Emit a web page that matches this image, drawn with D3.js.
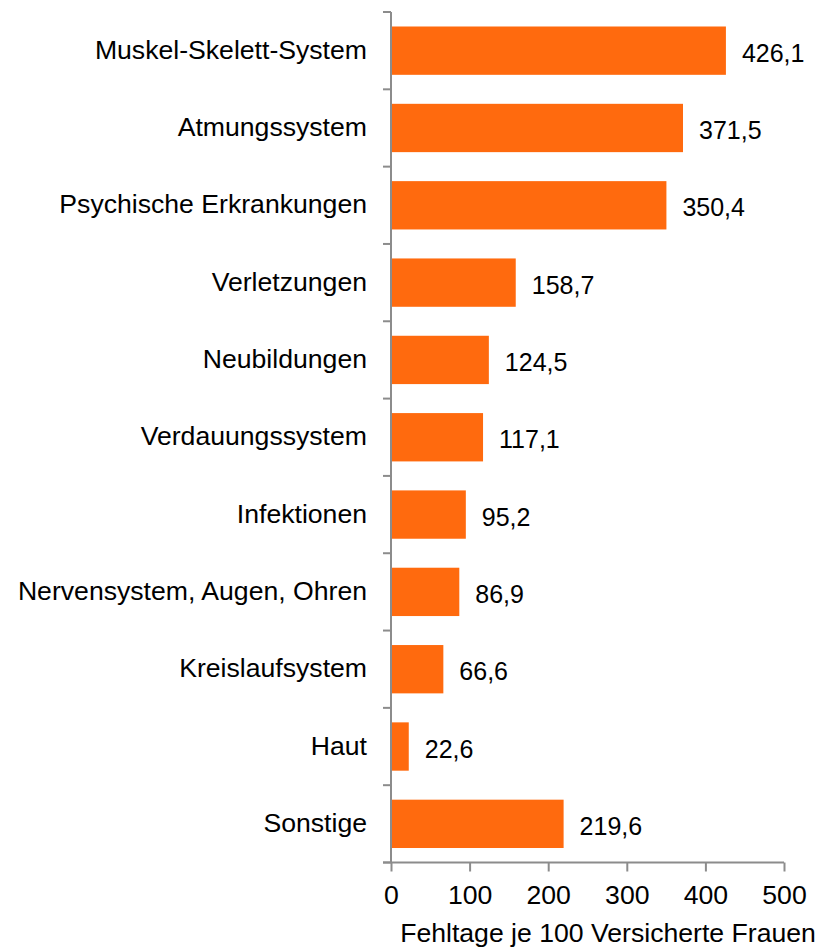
<!DOCTYPE html>
<html>
<head>
<meta charset="utf-8">
<script src="https://cdn.jsdelivr.net/npm/d3@7"></script>
<style>
  body { margin: 0; background: #fff; }
  svg text { font-family: "Liberation Sans", Arial, sans-serif; fill: #000; }
</style>
</head>
<body>
<svg id="chart" width="827" height="949"></svg>
<script>
const categories = [
  "Muskel-Skelett-System",
  "Atmungssystem",
  "Psychische Erkrankungen",
  "Verletzungen",
  "Neubildungen",
  "Verdauungssystem",
  "Infektionen",
  "Nervensystem, Augen, Ohren",
  "Kreislaufsystem",
  "Haut",
  "Sonstige",
];
const values = [426.1, 371.5, 350.4, 158.7, 124.5, 117.1, 95.2, 86.9, 66.6, 22.6, 219.6];
const xTicks = [0, 100, 200, 300, 400, 500];
const xTitle = "Fehltage je 100 Versicherte Frauen";

const svg = d3.select("#chart");
const plotLeft = 391, plotRight = 784, plotTop = 12, plotBottom = 862.5;
const axisColor = "#8c8c8c";
const barColor = "#ff6a0e";
const fontSize = 25;
const stretch = 1.065; // reference glyphs are a little wider than Liberation Sans
const fmt = (v) => v.toFixed(1).replace(".", ",");

const x = d3.scaleLinear().domain([0, 500]).range([plotLeft, plotRight]);
const y = d3.scaleBand().domain(categories).range([plotTop, plotBottom]).paddingInner(0.375).paddingOuter(0.1875);
const yc = (i) => y(categories[i]) + y.bandwidth() / 2;

// bars
svg.append("g")
  .selectAll("rect")
  .data(values)
  .join("rect")
  .attr("x", x(0))
  .attr("y", (d, i) => y(categories[i]))
  .attr("width", (d) => x(d) - x(0))
  .attr("height", y.bandwidth())
  .attr("fill", barColor);

// value labels
svg.append("g")
  .selectAll("text")
  .data(values)
  .join("text")
  .attr("x", (d) => x(d) + 16)
  .attr("y", (d, i) => yc(i) + 11)
  .attr("font-size", fontSize)
  .text(fmt);

// category labels
svg.append("g")
  .selectAll("text")
  .data(categories)
  .join("text")
  .attr("transform", (d, i) => `translate(367,${yc(i) + 8}) scale(${stretch},1)`)
  .attr("text-anchor", "end")
  .attr("font-size", fontSize)
  .text((d) => d);

// y axis line + ticks at band boundaries
const step = y.step();
const yBounds = d3.range(categories.length + 1).map((i) => plotTop + i * step);
const ya = svg.append("g").attr("stroke", axisColor).attr("stroke-width", 2);
ya.append("line").attr("x1", plotLeft).attr("x2", plotLeft).attr("y1", plotTop).attr("y2", plotBottom);
ya.selectAll("line.t")
  .data(yBounds)
  .join("line")
  .attr("class", "t")
  .attr("x1", plotLeft - 8)
  .attr("x2", plotLeft)
  .attr("y1", (d) => d)
  .attr("y2", (d) => d);

// x axis
const xAxis = d3.axisBottom(x).tickValues(xTicks).tickSize(9).tickSizeOuter(0);
const xg = svg.append("g").attr("transform", `translate(0,${plotBottom})`).call(xAxis);
xg.select(".domain").remove();
xg.selectAll(".tick line").attr("stroke", axisColor).attr("stroke-width", 2);
xg.selectAll(".tick text")
  .attr("y", 41.5)
  .attr("dy", null)
  .attr("transform", `scale(${stretch},1)`)
  .attr("font-size", fontSize)
  .attr("font-family", "Liberation Sans, Arial, sans-serif")
  .attr("fill", "#000");
xg.append("line")
  .attr("x1", plotLeft - 8).attr("x2", plotRight)
  .attr("y1", 0).attr("y2", 0)
  .attr("stroke", axisColor).attr("stroke-width", 2);

svg.append("text")
  .attr("transform", `translate(608,942) scale(${stretch},1)`)
  .attr("text-anchor", "middle")
  .attr("font-size", fontSize)
  .text(xTitle);
</script>
</body>
</html>
